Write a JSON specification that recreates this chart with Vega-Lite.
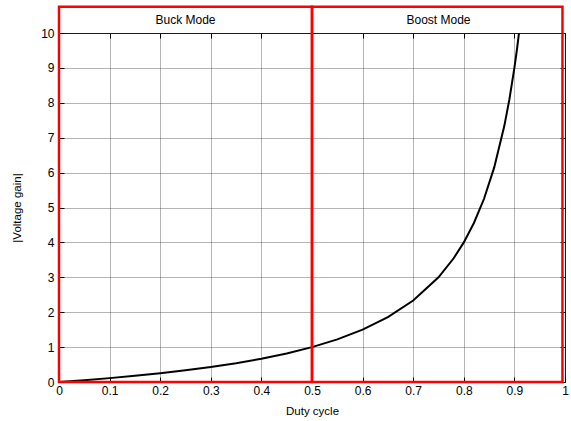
{
  "$schema": "https://vega.github.io/schema/vega-lite/v6.json",
  "width": 506,
  "height": 349,
  "autosize": {"type": "none"},
  "padding": {"left": 59, "top": 33, "right": 6, "bottom": 39},
  "background": "white",
  "config": {
    "font": "Liberation Sans",
    "view": {"stroke": "black", "strokeWidth": 1},
    "axis": {
      "labelFont": "Liberation Sans",
      "titleFont": "Liberation Sans",
      "labelFontSize": 12,
      "titleFontSize": 11.5,
      "titleFontWeight": "normal",
      "labelColor": "black",
      "titleColor": "black",
      "domain": false,
      "tickColor": "black",
      "tickSize": -5,
      "grid": true,
      "gridColor": "#444",
      "gridDash": [1, 1],
      "gridWidth": 0.8
    }
  },
  "datasets": {
    "curve": [
      {"d": 0, "g": 0}, {"d": 0.05, "g": 0.0526}, {"d": 0.1, "g": 0.1111}, {"d": 0.15, "g": 0.1765},
      {"d": 0.2, "g": 0.25}, {"d": 0.25, "g": 0.3333}, {"d": 0.3, "g": 0.4286}, {"d": 0.35, "g": 0.5385},
      {"d": 0.4, "g": 0.6667}, {"d": 0.45, "g": 0.8182}, {"d": 0.5, "g": 1}, {"d": 0.55, "g": 1.2222},
      {"d": 0.6, "g": 1.5}, {"d": 0.65, "g": 1.8571}, {"d": 0.7, "g": 2.3333}, {"d": 0.75, "g": 3},
      {"d": 0.78, "g": 3.5455}, {"d": 0.8, "g": 4}, {"d": 0.82, "g": 4.5556}, {"d": 0.84, "g": 5.25},
      {"d": 0.86, "g": 6.1429}, {"d": 0.88, "g": 7.3333}, {"d": 0.89, "g": 8.0909}, {"d": 0.9, "g": 9},
      {"d": 0.905, "g": 9.5263}, {"d": 0.9091, "g": 10}
    ],
    "modes": [
      {"x0": 0, "x1": 0.5, "y0": 0, "y1": 10.75, "xm": 0.25, "ym": 10.37, "label": "Buck Mode"},
      {"x0": 0.5, "x1": 0.995, "y0": 0, "y1": 10.75, "xm": 0.75, "ym": 10.37, "label": "Boost Mode"}
    ]
  },
  "layer": [
    {
      "data": {"name": "curve"},
      "mark": {"type": "line", "color": "black", "strokeWidth": 2, "clip": true},
      "encoding": {
        "x": {"field": "d", "type": "quantitative", "scale": {"domain": [0, 1], "nice": false},
          "axis": {"title": "Duty cycle", "values": [0, 0.1, 0.2, 0.3, 0.4, 0.5, 0.6, 0.7, 0.8, 0.9, 1], "labelExpr": "datum.value == 0 ? '0' : datum.value == 1 ? '1' : format(datum.value, '.1f')", "labelPadding": 8, "titlePadding": 9, "labelFlush": false, "labelOverlap": false}},
        "y": {"field": "g", "type": "quantitative", "scale": {"domain": [0, 10], "nice": false},
          "axis": {"title": "|Voltage gain|", "values": [0, 1, 2, 3, 4, 5, 6, 7, 8, 9, 10], "labelPadding": 10, "titlePadding": 18, "labelFlush": false, "labelOverlap": false}}
      }
    },
    {
      "data": {"name": "curve"},
      "mark": {"type": "point", "opacity": 0},
      "encoding": {
        "x": {"field": "d", "type": "quantitative", "scale": {"domain": [0, 1], "nice": false},
          "axis": {"orient": "top", "title": null, "labels": false, "grid": false, "values": [0, 0.1, 0.2, 0.3, 0.4, 0.5, 0.6, 0.7, 0.8, 0.9, 1]}},
        "y": {"field": "g", "type": "quantitative", "scale": {"domain": [0, 10], "nice": false},
          "axis": {"orient": "right", "title": null, "labels": false, "grid": false, "values": [0, 1, 2, 3, 4, 5, 6, 7, 8, 9, 10]}}
      }
    },
    {
      "data": {"name": "modes"},
      "mark": {"type": "rect", "fill": null, "stroke": "#ff0000", "strokeWidth": 2.5, "clip": false},
      "encoding": {
        "x": {"field": "x0", "type": "quantitative", "scale": {"domain": [0, 1], "nice": false}, "axis": null},
        "x2": {"field": "x1"},
        "y": {"field": "y0", "type": "quantitative", "scale": {"domain": [0, 10], "nice": false}, "axis": null},
        "y2": {"field": "y1"}
      }
    },
    {
      "data": {"name": "modes"},
      "mark": {"type": "text", "fontSize": 12, "color": "black", "clip": false, "font": "Liberation Sans"},
      "encoding": {
        "x": {"field": "xm", "type": "quantitative", "scale": {"domain": [0, 1], "nice": false}, "axis": null},
        "y": {"field": "ym", "type": "quantitative", "scale": {"domain": [0, 10], "nice": false}, "axis": null},
        "text": {"field": "label"}
      }
    }
  ],
  "resolve": {"axis": {"x": "independent", "y": "independent"}}
}
